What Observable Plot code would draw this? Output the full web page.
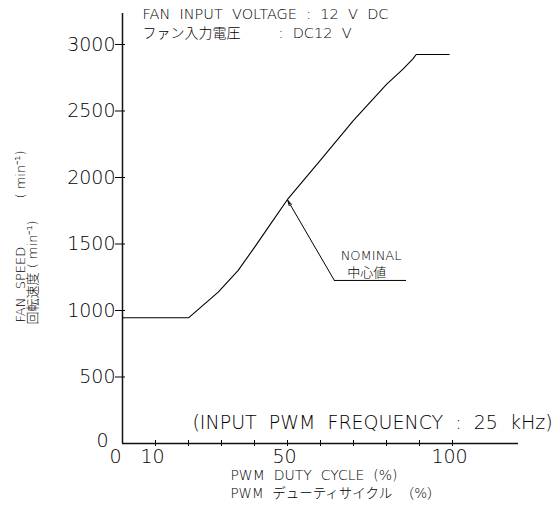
<!DOCTYPE html>
<html><head><meta charset="utf-8">
<script src="https://cdn.jsdelivr.net/npm/d3@7"></script>
<script src="https://cdn.jsdelivr.net/npm/@observablehq/plot@0.6"></script>
<style>body{margin:0;background:#fff} svg text{white-space:pre}</style>
</head><body><div id="chart"></div>
<script>
// data
const duty  = [0, 20, 29, 35, 40, 45, 50, 60, 70, 75, 80, 85, 88, 89, 99];
const speed = [945, 945, 1138, 1300, 1475, 1655, 1835, 2130, 2430, 2565, 2700, 2815, 2892, 2925, 2925];
const xTicks = [10, 20, 30, 40, 50, 60, 70, 80, 90, 100];
const xLabels = [10, 50, 100];
const yTicks = [500, 1000, 1500, 2000, 2500, 3000];

const curve = duty.map((d, i) => ({duty: d, speed: speed[i]}));

// annotation anchors (data units)
const nominalTip = {x: 50.1, y: 1827};
const nominalElbow = {x: 64.2, y: 1226};
const nominalEnd = {x: 85.8, y: 1226};

const FONT = "DejaVu Sans, 'Noto Sans CJK JP', sans-serif";
const CJK = "'Noto Sans CJK JP', DejaVu Sans, sans-serif";

function label(x, y, t, o = {}) {
  return Plot.text([{x, y, t}], {x: "x", y: "y", text: "t", textAnchor: "start", lineAnchor: "bottom", fill: "#000", ...o});
}

const chart = Plot.plot({
  width: 558, height: 512,
  marginLeft: 122, marginRight: 40, marginTop: 13, marginBottom: 69,
  x: {domain: [0, 120]},
  y: {domain: [0, 3233]},
  style: {fontFamily: FONT, color: "#000", background: "#fff", overflow: "visible"},
  marks: [
    Plot.axisX({ticks: xTicks, tickSize: 6, dy: -3, tickFormat: () => "", label: null, stroke: "#000"}),
    Plot.axisY({ticks: yTicks, tickSize: 10, dx: 3, tickFormat: () => "", label: null, stroke: "#000"}),
    Plot.ruleY([0], {stroke: "#111", strokeWidth: 1.5}),
    Plot.ruleX([0], {stroke: "#111", strokeWidth: 1.5}),
    // tick labels
    Plot.text(yTicks, {x: 0, y: d => d, text: d => String(d), dx: -7, textAnchor: "end", lineAnchor: "middle", fontSize: 19, fontWeight: 300, fill: "#000"}),
    Plot.text([0], {x: 0, y: 0, text: d => "0", dx: -14, dy: -3, textAnchor: "end", lineAnchor: "middle", fontSize: 19, fontWeight: 300, fill: "#000"}),
    Plot.text(xLabels, {x: d => d, y: 0, text: d => String(d), dx: -3, dy: 19, lineAnchor: "bottom", fontSize: 19, fontWeight: 300, fill: "#000"}),
    Plot.text([0], {x: 0, y: 0, text: d => "0", dx: -7, dy: 19, lineAnchor: "bottom", fontSize: 19, fontWeight: 300, fill: "#000"}),
    // curve
    Plot.line(curve, {x: "duty", y: "speed", stroke: "#000", strokeWidth: 1.1}),
    // nominal leader
    Plot.line([nominalEnd, nominalElbow], {x: "x", y: "y", stroke: "#000", strokeWidth: 1}),
    Plot.arrow([{a: nominalElbow, b: nominalTip}], {x1: d => d.a.x, y1: d => d.a.y, x2: d => d.b.x, y2: d => d.b.y, stroke: "#000", strokeWidth: 1, headLength: 8, headAngle: 30}),
    label(66.1, 1383, "NOMINAL", {fontSize: 13, fontWeight: 300}),
    label(68.1, 1250, "中心値", {fontSize: 13, fontFamily: CJK, fontWeight: 300}),
    // header
    label(6.06, 3188, "FAN  INPUT  VOLTAGE  :  12  V  DC", {fontSize: 14.5, fontWeight: 300}),
    label(6.06, 3050, "ファン入力電圧", {fontSize: 14, fontFamily: CJK, fontWeight: 300}),
    label(47.3, 3050, ":  DC12  V", {fontSize: 14.5, fontWeight: 300}),
    // frequency note
    label(21.2, 110.5, "(INPUT  PWM  FREQUENCY  :  25  kHz)", {fontSize: 19, fontWeight: 300}),
    // x axis title
    label(32.7, -278, "PWM  DUTY  CYCLE  (%)", {fontSize: 14, fontWeight: 300}),
    label(32.7, -413, "PWM  デューティサイクル  （%）", {fontSize: 13.5, fontWeight: 300}),
    // y axis title
    label(-30.9, 910, "FAN  SPEED", {rotate: -90, lineAnchor: "middle", fontSize: 13, fontWeight: 300}),
    label(-30.9, 2203, "( min⁻¹)", {rotate: -90, lineAnchor: "middle", textAnchor: "end", fontSize: 13, fontWeight: 300}),
    label(-27.3, 895, "回転速度 ( min⁻¹)", {rotate: -90, lineAnchor: "middle", fontSize: 13, fontWeight: 300})
  ]
});
document.getElementById("chart").append(chart);
</script></body></html>
